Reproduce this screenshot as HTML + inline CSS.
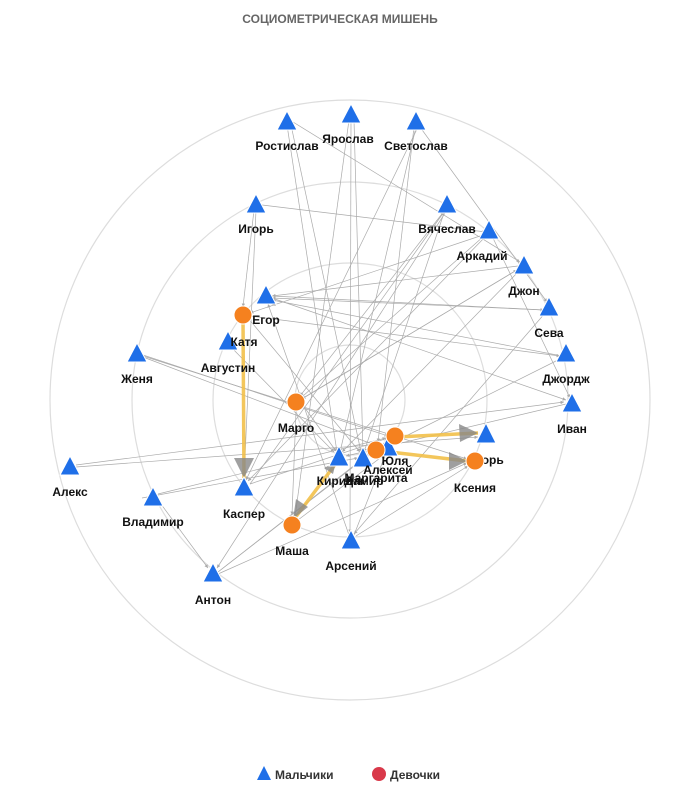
<!DOCTYPE html>
<html><head><meta charset="utf-8"><style>
html,body{margin:0;padding:0;background:#fff;}
svg{display:block;}
text{font-family:"Liberation Sans",sans-serif;}
</style></head><body>
<svg width="680" height="797" viewBox="0 0 680 797" xmlns="http://www.w3.org/2000/svg">
<defs>
<marker id="a" viewBox="0 0 10 10" refX="10" refY="5" markerWidth="5" markerHeight="5" orient="auto"><path d="M0,0L10,5L0,10z" fill="#aaa"/></marker>
</defs>
<text x="340" y="23" text-anchor="middle" font-size="12" font-weight="bold" fill="#666">СОЦИОМЕТРИЧЕСКАЯ МИШЕНЬ</text>
<g fill="none" stroke="#ddd" stroke-width="1.2">
<circle cx="350" cy="400" r="300"/><circle cx="350" cy="400" r="218"/><circle cx="350" cy="400" r="137"/><circle cx="350" cy="400" r="55"/>
</g>
<g stroke="#aaa" stroke-width="0.7" fill="none" marker-end="url(#a)">
<line x1="287" y1="125" x2="337" y2="452"/><line x1="291" y1="125" x2="361" y2="452"/><line x1="293" y1="122" x2="520" y2="262"/>
<line x1="351" y1="120" x2="350" y2="533"/><line x1="349" y1="120" x2="295" y2="517"/><line x1="354" y1="120" x2="363" y2="452"/>
<line x1="416" y1="127" x2="340" y2="452"/><line x1="414" y1="127" x2="378" y2="442"/><line x1="420" y1="127" x2="547" y2="302"/><line x1="418" y1="127" x2="246" y2="480"/>
<line x1="256" y1="210" x2="244" y2="480"/><line x1="262" y1="205" x2="486" y2="232"/><line x1="254" y1="210" x2="243" y2="307"/>
<line x1="445" y1="210" x2="300" y2="396"/><line x1="445" y1="210" x2="364" y2="452"/><line x1="447" y1="210" x2="217" y2="568"/>
<line x1="492" y1="236" x2="570" y2="398"/><line x1="486" y1="234" x2="250" y2="313"/><line x1="486" y1="236" x2="248" y2="481"/>
<line x1="520" y1="268" x2="302" y2="399"/><line x1="520" y1="270" x2="342" y2="452"/><line x1="518" y1="266" x2="272" y2="296"/>
<line x1="544" y1="310" x2="272" y2="298"/><line x1="546" y1="312" x2="354" y2="534"/>
<line x1="562" y1="356" x2="272" y2="300"/><line x1="562" y1="358" x2="382" y2="448"/>
<line x1="566" y1="404" x2="346" y2="456"/><line x1="76" y1="465" x2="564" y2="402"/><line x1="76" y1="467" x2="478" y2="437"/>
<line x1="143" y1="355" x2="388" y2="436"/><line x1="143" y1="356" x2="467" y2="459"/><line x1="143" y1="357" x2="380" y2="447"/>
<line x1="158" y1="500" x2="208" y2="568"/><line x1="158" y1="494" x2="386" y2="438"/>
<line x1="218" y1="572" x2="388" y2="440"/><line x1="218" y1="572" x2="370" y2="453"/><line x1="218" y1="574" x2="467" y2="463"/>
<line x1="302" y1="404" x2="336" y2="451"/><line x1="296" y1="411" x2="292" y2="515"/><line x1="303" y1="398" x2="517" y2="270"/><line x1="303" y1="396" x2="484" y2="236"/>
<line x1="354" y1="535" x2="390" y2="443"/><line x1="356" y1="536" x2="468" y2="466"/><line x1="349" y1="535" x2="268" y2="304"/>
<line x1="298" y1="520" x2="384" y2="455"/><line x1="250" y1="484" x2="388" y2="438"/><line x1="250" y1="484" x2="444" y2="212"/>
<line x1="272" y1="298" x2="566" y2="400"/><line x1="272" y1="296" x2="544" y2="310"/>
<line x1="248" y1="318" x2="360" y2="452"/><line x1="250" y1="316" x2="560" y2="356"/>
<line x1="142" y1="498" x2="358" y2="458"/><line x1="230" y1="346" x2="334" y2="452"/>
</g>
<g stroke="#f2c04a" stroke-width="3.5" fill="none" opacity="0.9">
<line x1="243" y1="318" x2="244" y2="478"/><line x1="337" y1="462" x2="295" y2="518"/>
<line x1="397" y1="437" x2="478" y2="433"/><line x1="390" y1="452" x2="467" y2="461"/>
</g>
<g fill="#888" opacity="0.8">
<polygon points="234,458 254,458 244,478"/><polygon points="276,306 258,300 266,292"/>
<polygon points="293,519 296,499 308,507"/><polygon points="336,462 333,474 324,468"/>
<polygon points="478,433 459,424 460,442"/><polygon points="467,461 449,452 449,470"/>
</g>
<g fill="#1f6fe8" stroke="#fff" stroke-width="1">
<polygon points="287,111 297,130 277,130"/><polygon points="351,104 361,123 341,123"/><polygon points="416,111 426,130 406,130"/>
<polygon points="256,194 266,213 246,213"/><polygon points="447,194 457,213 437,213"/><polygon points="489,220 499,239 479,239"/>
<polygon points="524,255 534,274 514,274"/><polygon points="549,297 559,316 539,316"/><polygon points="566,343 576,362 556,362"/>
<polygon points="572,393 582,412 562,412"/><polygon points="266,285 276,304 256,304"/><polygon points="228,331 238,350 218,350"/>
<polygon points="137,343 147,362 127,362"/><polygon points="70,456 80,475 60,475"/><polygon points="153,487 163,506 143,506"/>
<polygon points="244,477 254,496 234,496"/><polygon points="213,563 223,582 203,582"/><polygon points="351,530 361,549 341,549"/>
<polygon points="339,446 349,466 329,466"/><polygon points="363,447 373,467 353,467"/><polygon points="388,436 398,456 378,456"/>
<polygon points="486,423 496,443 476,443"/>
</g>
<g fill="#f5811f" stroke="#fff" stroke-width="1">
<circle cx="243" cy="315" r="9"/><circle cx="296" cy="402" r="9"/><circle cx="292" cy="525" r="9"/>
<circle cx="376" cy="450" r="9"/><circle cx="395" cy="436" r="9"/>
</g>
<g font-size="12" font-weight="bold" fill="#111" text-anchor="middle">
<text x="287" y="150">Ростислав</text><text x="348" y="143">Ярослав</text><text x="416" y="150">Светослав</text>
<text x="256" y="233">Игорь</text><text x="447" y="233">Вячеслав</text><text x="482" y="260">Аркадий</text>
<text x="524" y="295">Джон</text><text x="549" y="337">Сева</text><text x="566" y="383">Джордж</text><text x="572" y="433">Иван</text>
<text x="266" y="324">Егор</text><text x="244" y="346">Катя</text><text x="228" y="372">Августин</text><text x="137" y="383">Женя</text>
<text x="296" y="432">Марго</text><text x="70" y="496">Алекс</text><text x="153" y="526">Владимир</text><text x="244" y="518">Каспер</text>
<text x="292" y="555">Маша</text><text x="213" y="604">Антон</text><text x="351" y="570">Арсений</text>
<text x="339" y="485">Кирилл</text><text x="364" y="485">Дамир</text><text x="376" y="482">Маргарита</text>
<text x="388" y="474">Алексей</text><text x="395" y="465">Юля</text><text x="486" y="464">Игорь</text>
</g>
<circle cx="475" cy="461" r="9" fill="#f5811f" stroke="#fff"/>
<text x="475" y="492" font-size="12" font-weight="bold" fill="#111" text-anchor="middle">Ксения</text>
<polygon points="264,766 271,780 257,780" fill="#1f6fe8"/>
<text x="275" y="779" font-size="12" font-weight="bold" fill="#333">Мальчики</text>
<circle cx="379" cy="774" r="7" fill="#d9394a"/>
<text x="390" y="779" font-size="12" font-weight="bold" fill="#333">Девочки</text>
</svg>
</body></html>
